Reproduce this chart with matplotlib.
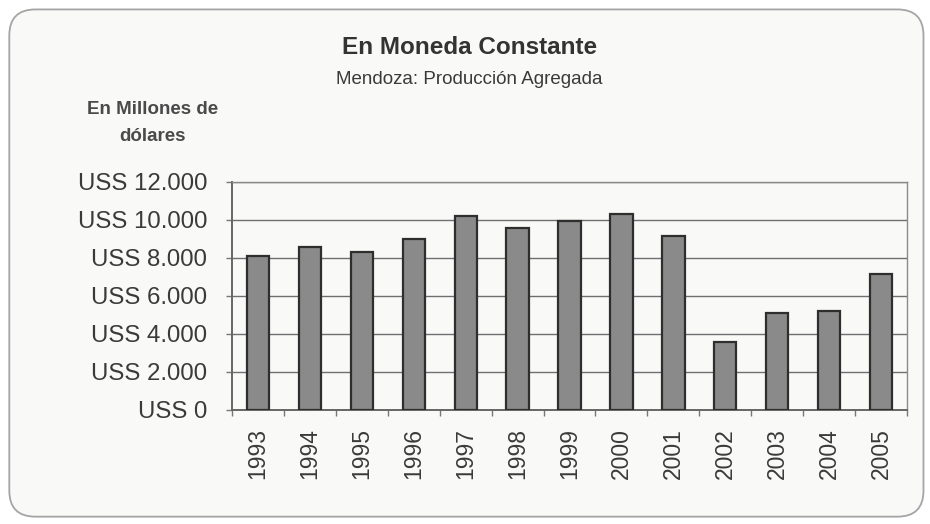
import matplotlib
matplotlib.use("Agg")
import matplotlib.pyplot as plt
from matplotlib.patches import FancyBboxPatch
from matplotlib.ticker import FuncFormatter, FixedLocator
import numpy as np

years = ["1993", "1994", "1995", "1996", "1997", "1998", "1999",
         "2000", "2001", "2002", "2003", "2004", "2005"]
values = [8120, 8560, 8330, 8980, 10210, 9600, 9950,
          10330, 9180, 3560, 5090, 5230, 7140]
yticks = [0, 2000, 4000, 6000, 8000, 10000, 12000]

title = "En Moneda Constante"
subtitle = "Mendoza: Producción Agregada"
unit_label = "En Millones de\ndólares"

plt.rcParams['font.family'] = ['Liberation Sans', 'DejaVu Sans']

fig = plt.figure(figsize=(9.30, 5.24), dpi=100)
fig.patch.set_facecolor("white")

box = FancyBboxPatch((0.010, 0.014), 0.983, 0.968,
                     boxstyle="round,pad=0,rounding_size=0.028",
                     transform=fig.transFigure, facecolor="#f9f9f8",
                     edgecolor="#a5a5a5", linewidth=1.3, zorder=-5,
                     mutation_aspect=930/524)
fig.patches.append(box)

ax = fig.add_axes([0.2495, 0.2176, 0.7258, 0.4351])
ax.set_zorder(2)
ax.set_facecolor("#f9f9f8")
x = np.arange(len(years))
ax.bar(x, values, width=0.43, color="#8a8a8a", edgecolor="#2e2e2e",
       linewidth=1.6, zorder=3)
ax.set_xlim(-0.5, len(years) - 0.5)
ax.set_ylim(0, 12000)
ax.set_yticks(yticks)
ax.yaxis.set_major_formatter(FuncFormatter(
    lambda v, p: "USS " + f"{int(v):,}".replace(",", ".")))
ax.grid(axis="y", color="#6f6f6f", linewidth=1.0, zorder=1)
ax.set_axisbelow(True)

ax.set_xticks(x)
ax.set_xticklabels(years, rotation=90)
ax.xaxis.set_minor_locator(FixedLocator(np.arange(-0.5, len(years), 1.0)))
ax.tick_params(axis="x", which="major", length=0, pad=13,
               labelsize=16.5, labelcolor="#3a3a3a")
ax.tick_params(axis="x", which="minor", length=4.5, width=1.0,
               color="#777777", direction="out")
ax.tick_params(axis="y", length=4, width=1.0, color="#777777",
               labelsize=17.3, labelcolor="#3a3a3a", pad=14)

for s in ["left", "bottom"]:
    ax.spines[s].set_color("#666666")
    ax.spines[s].set_linewidth(1.4)
for s in ["top", "right"]:
    ax.spines[s].set_color("#8a8a8a")
    ax.spines[s].set_linewidth(1.0)

fig.text(0.505, 0.910, title, ha="center", va="center",
         fontsize=17.5, fontweight="bold", color="#333333")
fig.text(0.505, 0.848, subtitle, ha="center", va="center",
         fontsize=13.5, color="#3a3a3a")
fig.text(0.164, 0.7647, unit_label, ha="center", va="center",
         fontsize=13.5, fontweight="bold", color="#4a4a4a", linespacing=1.75)

fig.savefig("out.png", dpi=100, facecolor=fig.get_facecolor())
